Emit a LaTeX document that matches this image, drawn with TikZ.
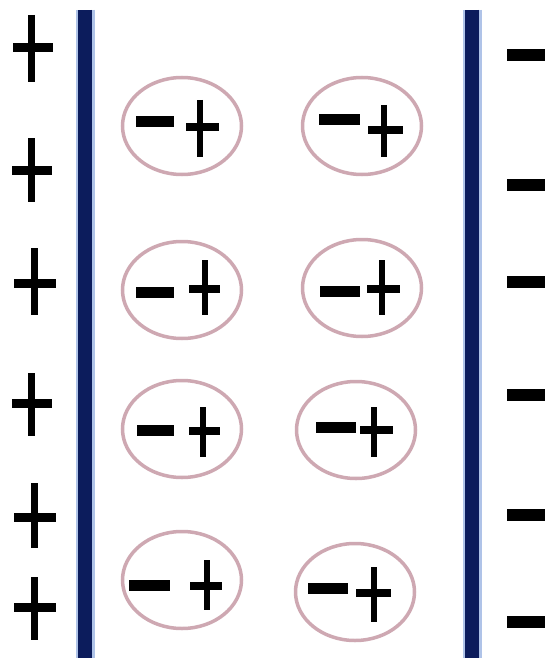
\documentclass[tikz,border=0pt]{standalone}
\usetikzlibrary{shapes.geometric}
\definecolor{platecore}{RGB}{12,28,92}
\definecolor{plateedge}{RGB}{175,195,232}
\definecolor{ring}{RGB}{206,168,178}
\begin{document}
\begin{tikzpicture}[x=1pt,y=-1pt,
  dip/.style={ellipse, draw=ring, line width=3.5pt, minimum width=119pt, minimum height=97pt, inner sep=0pt},
  charge/.style={draw=black, line cap=butt},
  plateline/.style={line cap=butt}]
\useasboundingbox[fill=white] (0,0) rectangle (545,658);
% plates
\coordinate (lt) at (85,10); \coordinate (lb) at (85,658);
\coordinate (rt) at (472,10); \coordinate (rb) at (472,658);
\draw[plateline, plateedge, line width=19pt] (lt) -- (lb);
\draw[plateline, platecore, line width=14pt] (lt) -- (lb);
\draw[plateline, plateedge, line width=19pt] (rt) -- (rb);
\draw[plateline, platecore, line width=14pt] (rt) -- (rb);
% left plus charges
\foreach \cx/\cy/\ya/\yb/\xa/\xb in {31/48/15/82/13/53, 31/170/138/202/12/52, 34/283/248/315/14/56,
  31/403/373/436/12/52, 34/517/483/548/14/56, 34/607/577/640/14/56}{
  \draw[charge, line width=7pt] (\cx,\ya) -- (\cx,\yb);
  \draw[charge, line width=9pt] (\xa,\cy) -- (\xb,\cy);
}
% right minus charges
\foreach \cy in {55,185,282,395,515,622}{
  \draw[charge, line width=12pt] (507,\cy) -- (545,\cy);
}
% dipoles
\node[dip] (e11) at (182,126) {};
\node[dip] (e12) at (362,126) {};
\node[dip] (e21) at (182,290) {};
\node[dip] (e22) at (362,288) {};
\node[dip] (e31) at (182,429) {};
\node[dip] (e32) at (356,430) {};
\node[dip] (e41) at (182,580) {};
\node[dip] (e42) at (355,592) {};
% charges inside dipoles
\foreach \ma/\mb/\my/\vx/\vt/\vb/\ha/\hb/\hy in {
  136/174/122/200/100/157/186/219/127,
  319/360/120/384/105/157/368/403/130,
  136/174/292/205/260/315/189/220/289,
  320/360/291/382/260/315/367/400/289,
  137/174/430/203/407/457/189/220/431,
  316/356/427/374/407/457/360/393/430,
  129/170/585/207/560/610/190/222/586,
  308/348/588/374/567/622/356/391/593}{
  \draw[charge, line width=11pt] (\ma,\my) -- (\mb,\my);
  \draw[charge, line width=6pt] (\vx,\vt) -- (\vx,\vb);
  \draw[charge, line width=8pt] (\ha,\hy) -- (\hb,\hy);
}
\end{tikzpicture}
\end{document}
